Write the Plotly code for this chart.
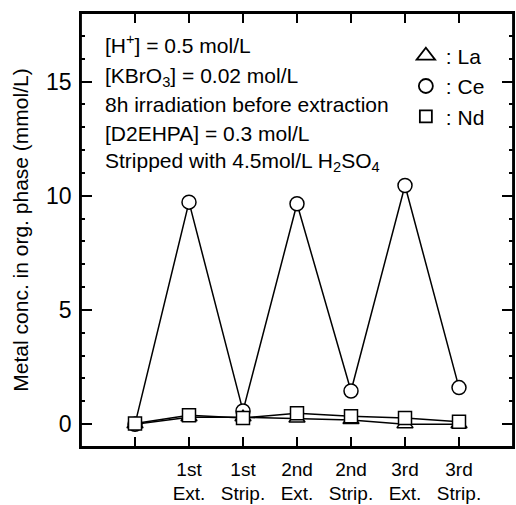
import plotly.graph_objects as go

steps = [0, 1, 2, 3, 4, 5, 6]
step_labels = ["", "1st<br>Ext.", "1st<br>Strip.", "2nd<br>Ext.", "2nd<br>Strip.", "3rd<br>Ext.", "3rd<br>Strip."]
la = [0.0, 0.3, 0.3, 0.25, 0.18, 0.0, 0.0]
ce = [0.0, 9.72, 0.58, 9.65, 1.45, 10.45, 1.6]
nd = [0.03, 0.39, 0.27, 0.48, 0.35, 0.27, 0.1]

notes = [
    "[H<sup>+</sup>] = 0.5 mol/L",
    "[KBrO<sub>3</sub>] = 0.02 mol/L",
    "8h irradiation before extraction",
    "[D2EHPA] = 0.3 mol/L",
    "Stripped with 4.5mol/L H<sub>2</sub>SO<sub>4</sub>",
]

FONT = "Liberation Sans, Arial, sans-serif"
fig = go.Figure()

def add_series(y, symbol, size, name):
    fig.add_trace(go.Scatter(
        x=steps, y=y, mode="lines+markers", showlegend=False,
        line=dict(color="black", width=1.5),
        marker=dict(symbol=symbol, size=size, color="white",
                    line=dict(color="black", width=1.5)),
    ))

add_series(ce, "circle", 14, "Ce")
add_series(la, "triangle-up", 14, "La")
add_series(nd, "square", 13, "Nd")

for sym, size, name in [("triangle-up-open", 16, ": La"), ("circle-open", 14, ": Ce"), ("square-open", 12, ": Nd")]:
    fig.add_trace(go.Scatter(
        x=[None], y=[None], mode="markers", name=name,
        marker=dict(symbol=sym, size=size, color="black", line=dict(width=1.8)),
    ))

note_y = [43.5, 77, 104.5, 133, 161.5]
for t, yp in zip(notes, note_y):
    fig.add_annotation(
        x=0.05, xref="paper", y=(447 - yp) / 434, yref="paper",
        text=t, showarrow=False, xanchor="left", yanchor="middle",
        font=dict(family=FONT, size=21, color="black"),
    )

fig.add_shape(type="rect", xref="paper", yref="paper", x0=0, y0=0, x1=1, y1=1,
              line=dict(color="black", width=1.8), layer="above")

fig.update_layout(
    width=516, height=505,
    margin=dict(l=81, r=3, t=13, b=58, autoexpand=False),
    paper_bgcolor="white", plot_bgcolor="white",
    font=dict(family=FONT, size=20, color="black"),
    legend=dict(x=0.752, y=0.948, xanchor="left", yanchor="top",
                bgcolor="rgba(0,0,0,0)", font=dict(size=21),
                tracegroupgap=0, itemsizing="trace"),
    xaxis=dict(
        range=[-1, 7], tickmode="array", tickvals=steps, ticktext=step_labels,
        ticks="inside", ticklen=10, tickwidth=1.5, tickcolor="black",
        showline=True, linecolor="black", linewidth=1.8, mirror="ticks",
        showgrid=False, zeroline=False, tickfont=dict(size=19),
        ticklabelstandoff=4, automargin=False,
    ),
    yaxis=dict(
        range=[-1, 18], tickmode="array", tickvals=[0, 5, 10, 15],
        ticks="inside", ticklen=11, tickwidth=1.5, tickcolor="black",
        minor=dict(dtick=1, tick0=0, ticks="inside", ticklen=4, tickwidth=1.5, tickcolor="black", showgrid=False),
        showline=True, linecolor="black", linewidth=1.8, mirror="ticks",
        showgrid=False, zeroline=False, tickfont=dict(size=23),
        ticklabelstandoff=3, automargin=False,
        title=dict(text="Metal conc. in org. phase (mmol/L)", font=dict(size=21), standoff=12),
    ),
)

fig.write_html("out.html", config={"displayModeBar": False},
               post_script="document.body.style.margin='0';document.body.style.overflow='hidden';")
